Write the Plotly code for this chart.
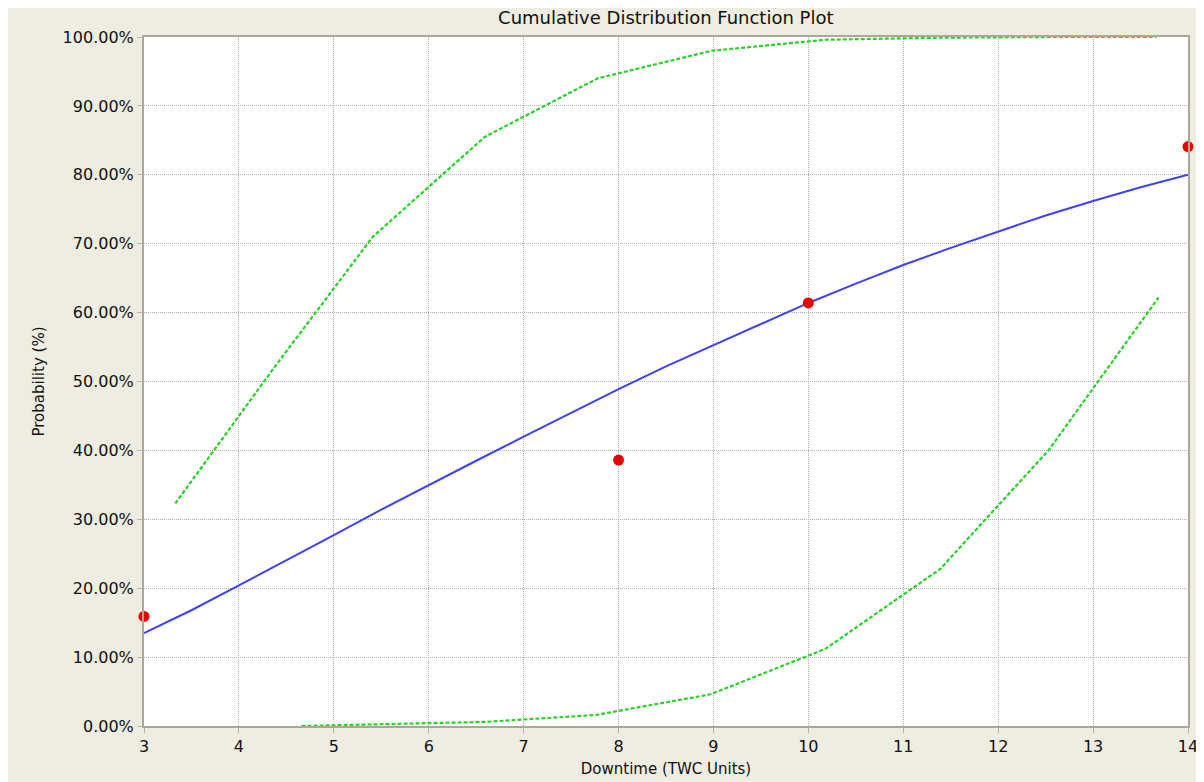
import plotly.graph_objects as go

# Fitted CDF (blue line)
cdf_x = [3, 3.5, 4, 4.5, 5, 5.5, 6, 6.5, 7, 7.5, 8, 8.5, 9, 9.5, 10, 10.5, 11, 11.5, 12, 12.5, 13, 13.5, 14]
cdf_y = [13.5, 16.8, 20.4, 24.0, 27.7, 31.4, 35.0, 38.5, 42.0, 45.5, 48.9, 52.2, 55.3, 58.4, 61.4, 64.2, 66.9, 69.4, 71.8, 74.1, 76.2, 78.2, 80.0]

# Upper confidence bound (green dashed)
upper_x = [3.33, 4.37, 5.41, 6.59, 7.78, 8.98, 10.18, 11.37, 12.56, 13.67]
upper_y = [32.3, 52.0, 71.0, 85.5, 94.0, 98.0, 99.6, 99.9, 100.0, 100.0]

# Lower confidence bound (green dashed)
lower_x = [4.66, 5.8, 6.6, 7.76, 8.97, 10.18, 11.39, 12.53, 13.69]
lower_y = [0.0, 0.3, 0.6, 1.6, 4.6, 11.2, 22.8, 40.0, 62.2]

# Observed data points (red)
obs_x = [3, 8, 10, 14]
obs_y = [15.9, 38.6, 61.4, 84.1]

x_ticks = list(range(3, 15))
y_ticks = [0, 10, 20, 30, 40, 50, 60, 70, 80, 90, 100]

fig = go.Figure()
green = dict(color="#2BD02B", width=2.2, dash="4px,2px")
fig.add_trace(go.Scatter(x=upper_x, y=upper_y, mode="lines", line=green, cliponaxis=False, showlegend=False))
fig.add_trace(go.Scatter(x=lower_x, y=lower_y, mode="lines", line=green, cliponaxis=False, showlegend=False))
fig.add_trace(go.Scatter(x=cdf_x, y=cdf_y, mode="lines", line=dict(color="#4141F7", width=2), cliponaxis=False, showlegend=False))
fig.add_trace(go.Scatter(x=obs_x, y=obs_y, mode="markers", marker=dict(color="#E80000", size=11), cliponaxis=False, showlegend=False))

font = "DejaVu Sans, Verdana, sans-serif"
fig.update_layout(
    width=1196, height=774,
    margin=dict(l=136, r=16, t=29, b=56, autoexpand=False),
    paper_bgcolor="#EFECE1",
    plot_bgcolor="#FFFFFF",
    font=dict(family=font, size=15, color="#111111"),
    title=dict(text="Cumulative Distribution Function Plot", x=0.550, xanchor="center", y=0.988, yanchor="middle",
               font=dict(size=18, color="#111111")),
)
axis_common = dict(
    showgrid=True, gridcolor="#B3AFA3", griddash="1px,1px", gridwidth=1,
    showline=True, linecolor="#ACA899", linewidth=2, mirror=True,
    ticks="outside", ticklen=5, tickcolor="#B8B4A8", zeroline=False, automargin=False,
)
fig.update_xaxes(range=[3, 14], tickvals=x_ticks, ticktext=[str(v) for v in x_ticks],
                 title=dict(text="Downtime (TWC Units)", standoff=8, font=dict(size=15)),
                 tickfont=dict(size=16), **axis_common)
fig.update_yaxes(range=[0, 100], tickvals=y_ticks, ticktext=[f"{v:.2f}%" for v in y_ticks],
                 title=dict(text="Probability (%)", standoff=14, font=dict(size=15)),
                 tickfont=dict(size=16), **axis_common)

fig.write_html("out.html")
